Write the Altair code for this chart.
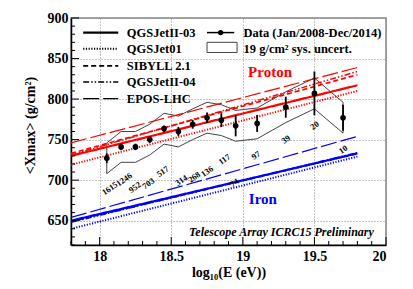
import altair as alt
import pandas as pd
import numpy as np

# ---- data ----
energy = [18.05, 18.15, 18.25, 18.35, 18.45, 18.55, 18.65, 18.75, 18.85, 18.95, 19.1, 19.3, 19.5, 19.7]
xmax = [727, 741, 741, 750, 763.5, 760, 769, 777, 774, 767, 770, 790, 807, 777]
err = [6, 4, 4, 4, 4, 5.5, 5.5, 6.5, 8.5, 13, 10.5, 13, 27, 16]
sys_unc = 19
counts = ["1615", "1246", "952", "703", "517", "314", "268", "136", "117", "74", "97", "39", "20", "10"]
count_x = [18.07, 18.17, 18.245, 18.34, 18.44, 18.57, 18.66, 18.75, 18.87, 18.94, 19.09, 19.30, 19.50, 19.70]
count_y = [690, 701, 691.5, 696, 711, 700, 704, 711, 726, 697, 731, 750.5, 767.6, 738]

models = ["QGSJetII-03", "QGSJet01", "SIBYLL 2.1", "QGSJetII-04", "EPOS-LHC"]
model_e = [17.8, 19.8]
proton_start = [730, 719, 733, 731, 746]
proton_end = [817, 810, 830, 834, 839]
iron_start = [650, 640, 649, 648, 654]
iron_end = [733, 729, 733, 734, 754]

dash_range = [[1, 0], [1.2, 1.5], [5, 3], [6, 2, 1.5, 2, 1.5, 2], [16, 4]]
width_range = [2.2, 1.2, 2.2, 2.2, 2.2]

W, H = 315, 227
FONT = "Liberation Serif"

xs = alt.Scale(domain=[17.8, 20], nice=False, zero=False)
ys = alt.Scale(domain=[620, 900], nice=False, zero=False)
xax = alt.Axis(values=[18, 18.5, 19, 19.5, 20], format=".1~f", grid=True,
               title="log₁₀(E (eV))", titleY=27, titleBaseline="middle")
yax = alt.Axis(values=[650, 700, 750, 800, 850, 900], grid=True,
               title="<Xmax> (g/cm²)", titleX=-41, titleY=107, titleBaseline="middle",
               titleAlign="center")
dash_scale = alt.Scale(domain=models, range=dash_range)
width_scale = alt.Scale(domain=models, range=width_range)


def X(f):
    return alt.X(f, scale=xs, axis=xax)


def Y(f):
    return alt.Y(f, scale=ys, axis=yax)


# ---- tables ----
rows = []
for i, m in enumerate(models):
    for comp, s, e in (("Proton", proton_start, proton_end), ("Iron", iron_start, iron_end)):
        rows.append({"model": m, "comp": comp, "E": model_e[0], "X": s[i], "o": 0})
        rows.append({"model": m, "comp": comp, "E": model_e[1], "X": e[i], "o": 1})
lines_df = pd.DataFrame(rows)

data_df = pd.DataFrame({"E": energy, "X": xmax, "lo": np.array(xmax) - np.array(err),
                        "hi": np.array(xmax) + np.array(err)})

band_E = energy + energy[::-1] + [energy[0]]
band_X = [v + sys_unc for v in xmax] + [v - sys_unc for v in xmax[::-1]] + [xmax[0] + sys_unc]
band_df = pd.DataFrame({"E": band_E, "X": band_X, "o": list(range(len(band_E)))})

counts_df = pd.DataFrame({"E": count_x, "X": count_y, "t": counts})

legend_y = [882, 862, 841, 821, 800.5]
leg_df = pd.DataFrame({"model": models, "E": [17.885] * 5, "x1": [18.13] * 5,
                       "tx": [18.19] * 5, "X": legend_y})

# ---- layers ----
base = alt.Chart(data_df)

lines = alt.Chart(lines_df).mark_line(clip=True).encode(
    x=X("E:Q"), y=Y("X:Q"),
    color=alt.Color("comp:N", scale=alt.Scale(domain=["Proton", "Iron"], range=["#ff0000", "#0000ff"]), legend=None),
    strokeDash=alt.StrokeDash("model:N", scale=dash_scale, legend=None),
    strokeWidth=alt.StrokeWidth("model:N", scale=width_scale, legend=None),
    detail=["comp:N", "model:N"],
    order="o:Q",
)

band = alt.Chart(band_df).mark_line(color="#444444", strokeWidth=1).encode(
    x=X("E:Q"), y=Y("X:Q"), order="o:Q",
)

errbars = base.mark_rule(color="black", strokeWidth=1.8).encode(
    x=X("E:Q"), y=Y("lo:Q"), y2="hi:Q",
)
points = base.mark_circle(color="black", size=32, opacity=1).encode(
    x=X("E:Q"), y=Y("X:Q"),
)

count_text = alt.Chart(counts_df).mark_text(font=FONT, fontSize=8.5, fontWeight="bold", angle=325,
                                            align="center", baseline="middle", color="black").encode(
    x=X("E:Q"), y=Y("X:Q"), text="t:N",
)

leg_lines = alt.Chart(leg_df).mark_rule(color="black").encode(
    x=X("E:Q"), x2="x1:Q", y=Y("X:Q"),
    strokeDash=alt.StrokeDash("model:N", scale=dash_scale, legend=None),
    strokeWidth=alt.StrokeWidth("model:N", scale=width_scale, legend=None),
)
leg_text = alt.Chart(leg_df).mark_text(font=FONT, fontSize=12.5, fontWeight="bold", align="left",
                                       baseline="middle", color="black").encode(
    x=X("tx:Q"), y=Y("X:Q"), text="model:N",
)

leg2_df = pd.DataFrame({"E": [18.75], "x1": [18.94], "xm": [18.845], "X": [882],
                        "bx0": [18.75], "bx1": [18.96], "by0": [857.5], "by1": [870]})
leg2_line = alt.Chart(leg2_df).mark_rule(color="black", strokeWidth=1.5).encode(
    x=X("E:Q"), x2="x1:Q", y=Y("X:Q"))
leg2_pt = alt.Chart(leg2_df).mark_circle(color="black", size=28, opacity=1).encode(
    x=X("xm:Q"), y=Y("X:Q"))
leg2_box = alt.Chart(leg2_df).mark_rect(fill="white", stroke="#444444", strokeWidth=1).encode(
    x=X("bx0:Q"), x2="bx1:Q", y=Y("by0:Q"), y2="by1:Q")
leg2_txt_df = pd.DataFrame({"E": [19.005, 19.005], "X": [882, 862],
                            "t": ["Data (Jan/2008-Dec/2014)", "19 g/cm² sys. uncert."]})
leg2_txt = alt.Chart(leg2_txt_df).mark_text(font=FONT, fontSize=12.5, fontWeight="bold", align="left",
                                            baseline="middle", color="black").encode(
    x=X("E:Q"), y=Y("X:Q"), text="t:N")

ann_df = pd.DataFrame({"E": [19.19, 19.14], "X": [834, 677], "t": ["Proton", "Iron"], "c": ["Proton", "Iron"]})
ann = alt.Chart(ann_df).mark_text(font=FONT, fontSize=15, fontWeight="bold", align="center",
                                  baseline="middle").encode(
    x=X("E:Q"), y=Y("X:Q"), text="t:N",
    color=alt.Color("c:N", scale=alt.Scale(domain=["Proton", "Iron"], range=["#ff0000", "#0000ff"]), legend=None))

ta_df = pd.DataFrame({"E": [19.27], "X": [636], "t": ["Telescope Array ICRC15 Preliminary"]})
ta = alt.Chart(ta_df).mark_text(font=FONT, fontSize=12, fontWeight="bold", fontStyle="italic",
                                align="center", baseline="middle", color="black").encode(
    x=X("E:Q"), y=Y("X:Q"), text="t:N")

# inside ticks
ymin_df = pd.DataFrame({"X": [v for v in range(620, 901, 10) if v % 50 != 0]})
ymaj_df = pd.DataFrame({"X": [650, 700, 750, 800, 850, 900]})
xmin_df = pd.DataFrame({"E": [round(v, 1) for v in np.arange(17.8, 20.01, 0.1) if abs(v * 2 - round(v * 2)) > 1e-6]})
xmaj_df = pd.DataFrame({"E": [18, 18.5, 19, 19.5, 20]})
ytk_min = alt.Chart(ymin_df).mark_rule(color="black", strokeWidth=1).encode(
    y=Y("X:Q"), x=alt.value(0), x2=alt.value(4))
ytk_maj = alt.Chart(ymaj_df).mark_rule(color="black", strokeWidth=1).encode(
    y=Y("X:Q"), x=alt.value(0), x2=alt.value(8))
xtk_min = alt.Chart(xmin_df).mark_rule(color="black", strokeWidth=1).encode(
    x=X("E:Q"), y=alt.value(H), y2=alt.value(H - 4))
xtk_maj = alt.Chart(xmaj_df).mark_rule(color="black", strokeWidth=1).encode(
    x=X("E:Q"), y=alt.value(H), y2=alt.value(H - 8))

chart = alt.layer(
    band, lines, errbars, points, count_text,
    leg_lines, leg_text, leg2_line, leg2_box, leg2_pt, leg2_txt, ann, ta,
    ytk_min, ytk_maj, xtk_min, xtk_maj,
).properties(
    width=W, height=H,
    autosize=alt.AutoSizeParams(type="none"),
    padding={"left": 63, "top": 10, "right": 19, "bottom": 36},
).configure_view(
    stroke="#888888", strokeWidth=1.5,
).configure_axis(
    labelFont=FONT, labelFontSize=14, labelFontWeight="bold", labelColor="black",
    titleFont=FONT, titleFontSize=14, titleFontWeight="bold", titleColor="black",
    ticks=False, labelPadding=3,
    domainColor="black", domainWidth=1.5,
    gridColor="#888888", gridDash=[1, 2], gridWidth=1,
).configure_axisX(labelPadding=4)

chart.save("out.html", embed_options={"renderer": "svg", "actions": False})
